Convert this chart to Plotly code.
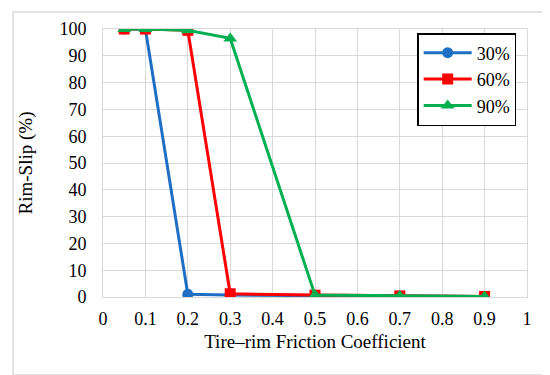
import plotly.graph_objects as go

friction = [0.05, 0.1, 0.2, 0.3, 0.5, 0.7, 0.9]
slip_30 = [100, 100, 1.0, 0.7, 0.5, 0.3, 0.2]
slip_60 = [100, 100, 99.5, 1.2, 0.7, 0.4, 0.2]
slip_90 = [100, 100, 99.5, 96.5, 0.7, 0.4, 0.2]
names = ["30%", "60%", "90%"]
colors = ["#1F6FC5", "#FF0000", "#00B050"]
symbols = ["circle", "square", "triangle-up"]
sizes = [11, 11, 12]

fig = go.Figure()
for name, ys, c, s, sz in zip(names, [slip_30, slip_60, slip_90], colors, symbols, sizes):
    fig.add_trace(go.Scatter(x=friction, y=ys, name=name, mode="lines+markers",
                             line=dict(color=c, width=3),
                             marker=dict(symbol=s, size=sz, color=c)))

fam = "Times New Roman, serif"
fig.update_layout(
    width=550, height=375,
    margin=dict(l=95, r=31, t=21, b=86),
    paper_bgcolor="white", plot_bgcolor="white",
    font=dict(family=fam, size=17, color="black"),
    showlegend=True,
    legend=dict(x=0.741, y=0.985, xanchor="left", yanchor="top",
                bordercolor="black", borderwidth=1.5, bgcolor="white",
                font=dict(family=fam, size=18, color="black"), itemwidth=48, tracegroupgap=4),
    xaxis=dict(range=[0, 1], dtick=0.1, tick0=0, showgrid=True, gridcolor="#D9D9D9",
               gridwidth=1.3, zeroline=False, showline=True, linecolor="#D9D9D9",
               ticks="outside", ticklen=5, tickcolor="rgba(0,0,0,0)",
               title=dict(text="Tire–rim Friction Coefficient", standoff=7,
                          font=dict(family=fam, size=19, color="black")),
               tickfont=dict(family=fam, size=18, color="black"), mirror=True),
    yaxis=dict(range=[0, 100], dtick=10, showgrid=True, gridcolor="#D9D9D9",
               gridwidth=1.3, zeroline=False, showline=True, linecolor="#D9D9D9",
               ticks="outside", ticklen=12, tickcolor="rgba(0,0,0,0)",
               title=dict(text="Rim-Slip (%)", standoff=21,
                          font=dict(family=fam, size=19, color="black")),
               tickfont=dict(family=fam, size=18, color="black"), mirror=True),
    shapes=[dict(type="rect", xref="paper", yref="paper",
                 x0=-0.212, x1=1.057, y0=-0.291, y1=1.063,
                 line=dict(color="#D9D9D9", width=1.5), layer="below")],
)
fig.write_html("out.html")
